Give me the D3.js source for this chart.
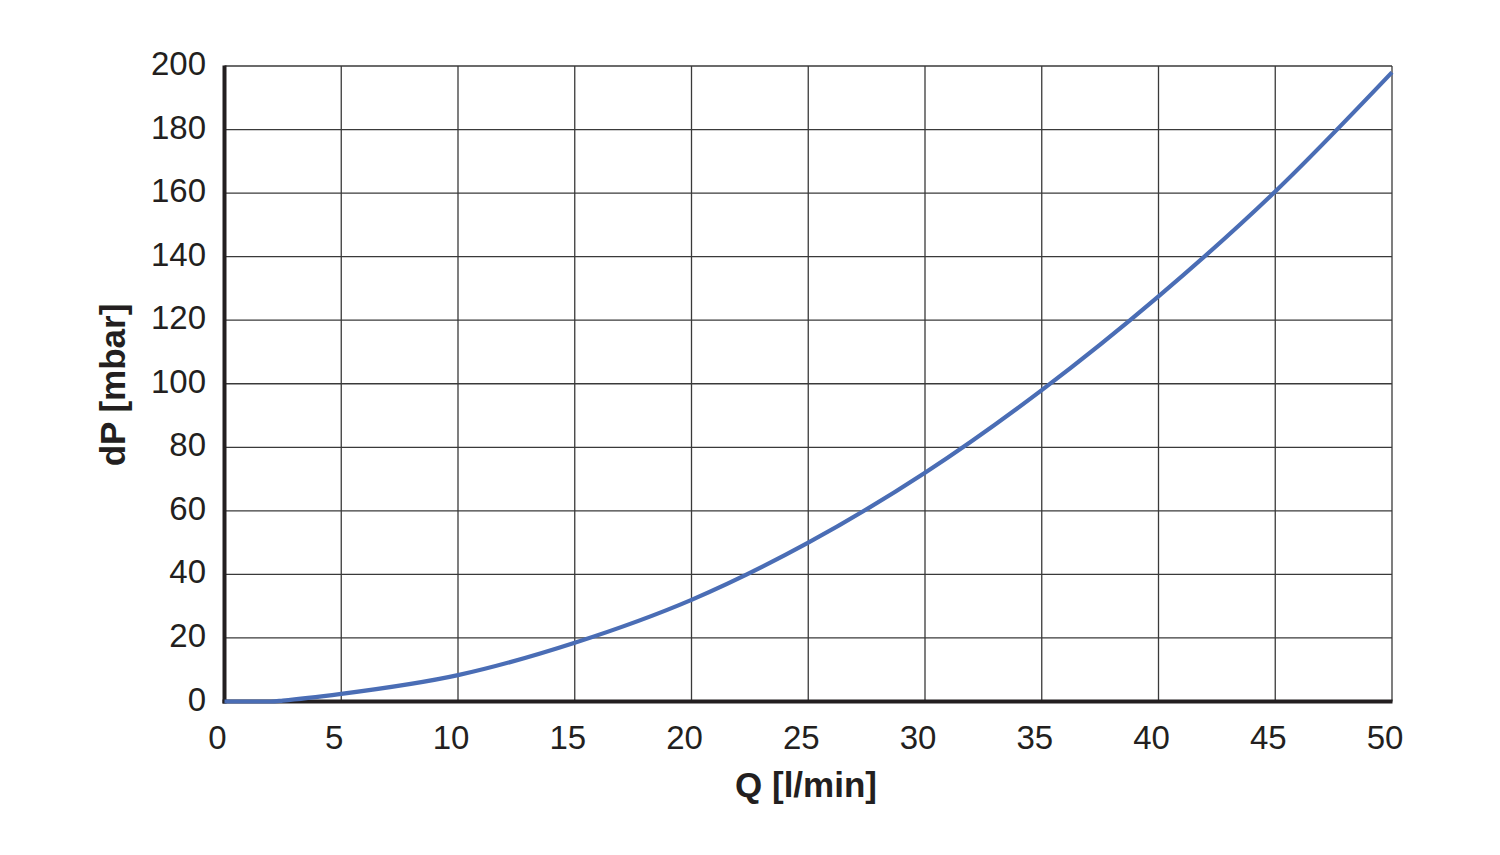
<!DOCTYPE html>
<html>
<head>
<meta charset="utf-8">
<script src="https://cdn.jsdelivr.net/npm/d3@7"></script>
<style>
  body { margin: 0; background: #fff; }
  svg text { font-family: "Liberation Sans", Arial, sans-serif; fill: #231f20; }
</style>
</head>
<body>
<svg width="1500" height="855"></svg>
<script>
// Flow vs. pressure drop
const flowQ = [0, 2, 2.5, 5, 10, 15, 20, 25, 30, 35, 40, 45, 50];
const pressureDP = [0, 0, 0.3, 2.4, 8.3, 18.5, 32, 50, 72, 98, 127.5, 160.5, 198];
const xTicks = [0, 5, 10, 15, 20, 25, 30, 35, 40, 45, 50];
const yTicks = [0, 20, 40, 60, 80, 100, 120, 140, 160, 180, 200];

const svg = d3.select("svg");

const x = d3.scaleLinear().domain([0, 50]).range([224.5, 1392]);
const y = d3.scaleLinear().domain([0, 200]).range([701.5, 66]);

// grid
svg.append("g")
    .selectAll("line.v")
    .data(xTicks.slice(1))
    .join("line")
    .attr("x1", d => x(d)).attr("x2", d => x(d))
    .attr("y1", y(0)).attr("y2", y(200))
    .attr("stroke", "#3a3a3a")
    .attr("stroke-width", 1.3);

svg.append("g")
    .selectAll("line.h")
    .data(yTicks.slice(1))
    .join("line")
    .attr("x1", x(0)).attr("x2", x(50))
    .attr("y1", d => y(d)).attr("y2", d => y(d))
    .attr("stroke", "#3a3a3a")
    .attr("stroke-width", 1.3);

// axes lines
svg.append("line")
    .attr("x1", x(0)).attr("x2", x(0))
    .attr("y1", y(200) - 0.5).attr("y2", y(0) + 2)
    .attr("stroke", "#231f20").attr("stroke-width", 4);
svg.append("line")
    .attr("x1", x(0) - 2).attr("x2", x(50) + 0.5)
    .attr("y1", y(0)).attr("y2", y(0))
    .attr("stroke", "#231f20").attr("stroke-width", 4);

// tick labels
svg.append("g")
    .selectAll("text")
    .data(yTicks)
    .join("text")
    .attr("x", 206)
    .attr("y", d => y(d) + 9)
    .attr("text-anchor", "end")
    .attr("font-size", 33)
    .text(d => d);

svg.append("g")
    .selectAll("text")
    .data(xTicks)
    .join("text")
    .attr("x", d => x(d) - 7)
    .attr("y", 749)
    .attr("text-anchor", "middle")
    .attr("font-size", 33)
    .text(d => d);

// axis titles
svg.append("text")
    .attr("x", 806)
    .attr("y", 797)
    .attr("text-anchor", "middle")
    .attr("font-size", 35)
    .attr("font-weight", "bold")
    .text("Q [l/min]");

svg.append("text")
    .attr("transform", "translate(125,385) rotate(-90)")
    .attr("text-anchor", "middle")
    .attr("font-size", 35)
    .attr("font-weight", "bold")
    .text("dP [mbar]");

// curve
const line = d3.line()
    .x((d, i) => x(flowQ[i]))
    .y(d => y(d))
    .curve(d3.curveMonotoneX);

svg.append("path")
    .datum(pressureDP)
    .attr("d", line)
    .attr("fill", "none")
    .attr("stroke", "#4a6db5")
    .attr("stroke-width", 4.2);
</script>
</body>
</html>
